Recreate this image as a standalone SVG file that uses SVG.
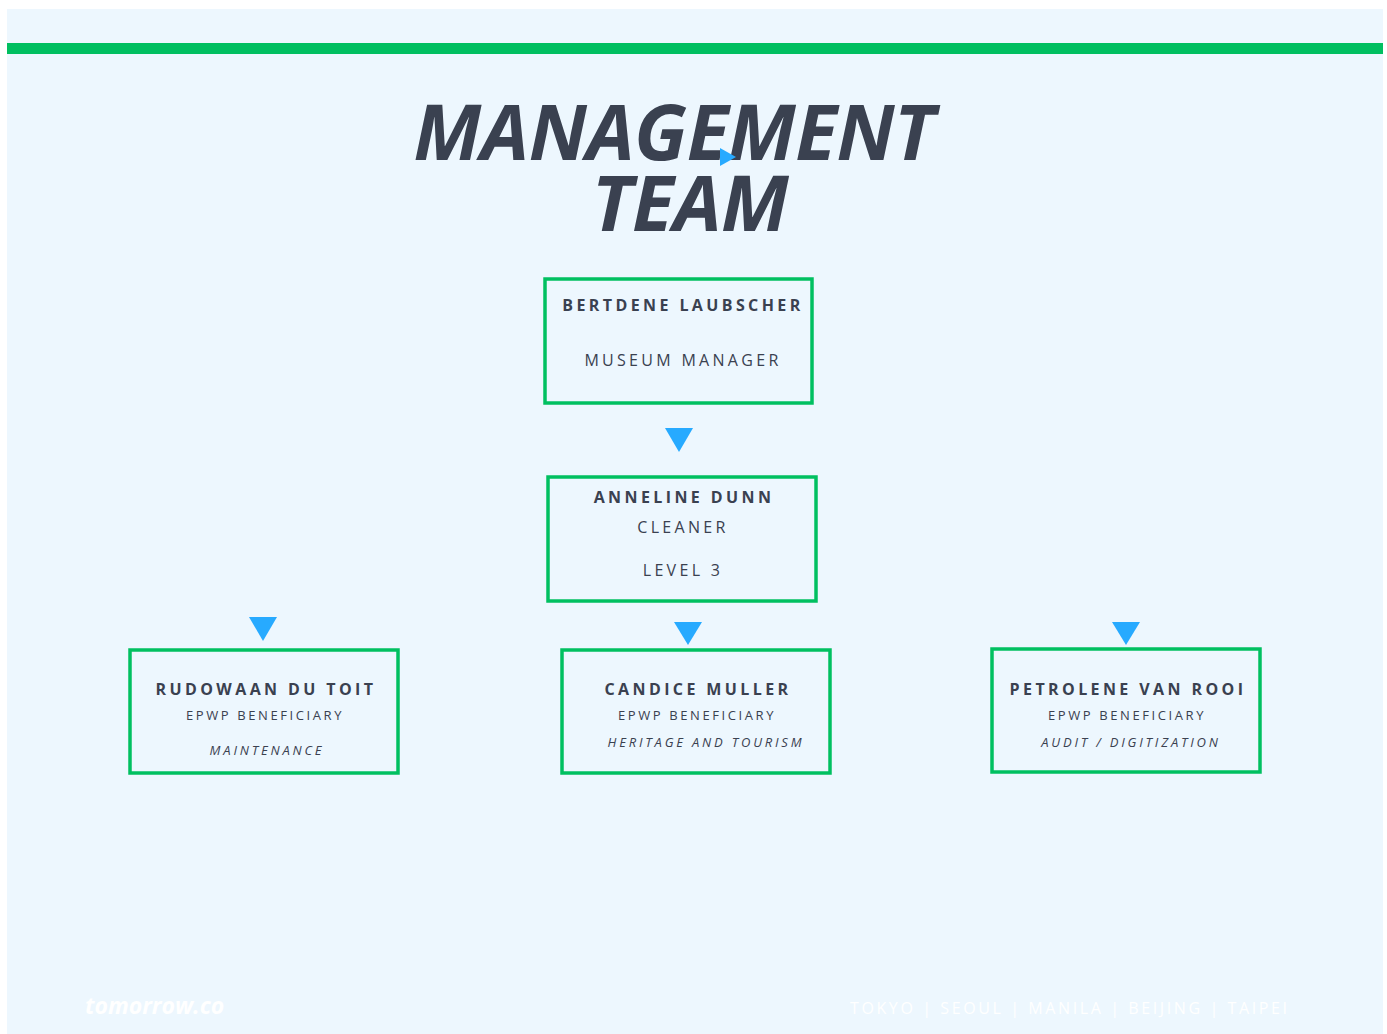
<svg xmlns="http://www.w3.org/2000/svg" width="1387" height="1034" viewBox="0 0 1387 1034">
<defs>
<style>
.bg{fill:#edf7fe}
.box{fill:none;stroke:#00c060;stroke-width:3.5}
.tri{fill:#27aaff}
.name{font-family:"Open Sans","DejaVu Sans",sans-serif;font-weight:700;font-size:16px;letter-spacing:3.4px;fill:#3a4150;text-anchor:middle}
.role{font-family:"Open Sans","DejaVu Sans",sans-serif;font-size:16px;letter-spacing:3.3px;fill:#3a4150;text-anchor:middle}
.sub{font-family:"Open Sans","DejaVu Sans",sans-serif;font-size:13px;letter-spacing:2.6px;fill:#3a4150;text-anchor:middle}
.it{font-family:"Open Sans","DejaVu Sans",sans-serif;font-style:italic;font-size:13px;letter-spacing:2.8px;fill:#3a4150;text-anchor:middle}
.title{font-family:"Open Sans","DejaVu Sans",sans-serif;font-weight:700;font-style:italic;font-size:77px;letter-spacing:-0.5px;fill:#3a4150;text-anchor:middle}
</style>
</defs>
<rect width="1387" height="1034" fill="#ffffff"/>
<rect class="bg" x="7" y="9" width="1376" height="1025"/>
<rect x="7" y="43" width="1376" height="11" fill="#00bf60"/>
<text class="title" x="674" y="160">MANAGEMENT</text>
<text class="title" x="690" y="231">TEAM</text>
<polygon class="tri" points="720,148 736,157 720,166"/>
<g id="connectors">
<polygon class="tri" points="665,428 693,428 679,452"/>
<polygon class="tri" points="249,617 277,617 263,641"/>
<polygon class="tri" points="674,622 702,622 688,645"/>
<polygon class="tri" points="1112,622 1140,622 1126,645"/>
</g>
<g id="bertdene">
<rect class="box" x="545" y="279" width="267" height="124"/>
<text class="name" x="683" y="311">BERTDENE LAUBSCHER</text>
<text class="role" x="683" y="366">MUSEUM MANAGER</text>
</g>
<g id="anneline">
<rect class="box" x="548" y="477" width="268" height="124"/>
<text class="name" x="684" y="503">ANNELINE DUNN</text>
<text class="role" x="683" y="533">CLEANER</text>
<text class="role" x="683" y="576">LEVEL 3</text>
</g>
<g id="rudowaan">
<rect class="box" x="130" y="650" width="268" height="123"/>
<text class="name" x="266" y="695">RUDOWAAN DU TOIT</text>
<text class="sub" x="265" y="720">EPWP BENEFICIARY</text>
<text class="it" x="267" y="755">MAINTENANCE</text>
</g>
<g id="candice">
<rect class="box" x="562" y="650" width="268" height="123"/>
<text class="name" x="698" y="695">CANDICE MULLER</text>
<text class="sub" x="697" y="720">EPWP BENEFICIARY</text>
<text class="it" x="706" y="747">HERITAGE AND TOURISM</text>
</g>
<g id="petrolene">
<rect class="box" x="992" y="649" width="268" height="123"/>
<text class="name" x="1128" y="695">PETROLENE VAN ROOI</text>
<text class="sub" x="1127" y="720">EPWP BENEFICIARY</text>
<text class="it" x="1131" y="747">AUDIT / DIGITIZATION</text>
</g>
<text x="85" y="1014" font-family="'Open Sans','DejaVu Sans',sans-serif" font-weight="700" font-style="italic" font-size="23" fill="#ffffff">tomorrow.co</text>
<text x="850" y="1014" font-family="'Open Sans','DejaVu Sans',sans-serif" font-size="16" letter-spacing="2.6" fill="#ffffff">TOKYO | SEOUL | MANILA | BEIJING | TAIPEI</text>
</svg>
